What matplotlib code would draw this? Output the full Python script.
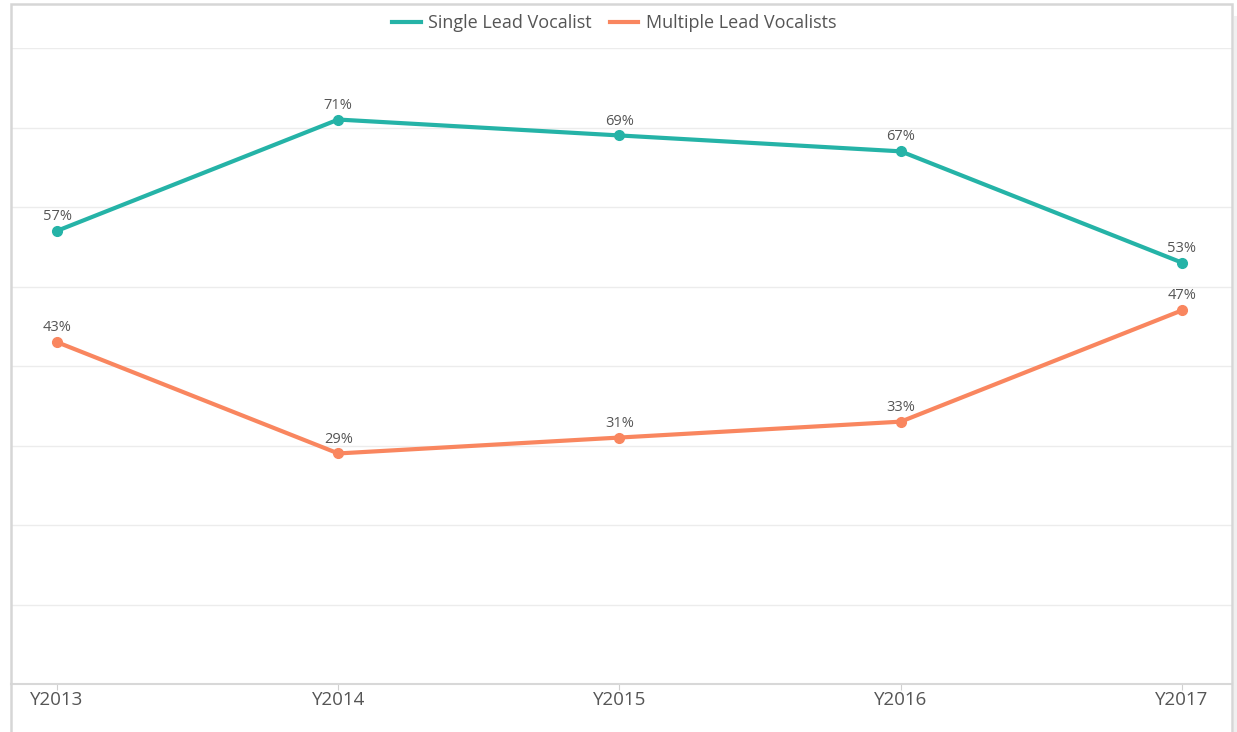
import matplotlib
matplotlib.use("Agg")
from matplotlib import pyplot as plt
from matplotlib.lines import Line2D
from matplotlib.patches import Rectangle

years = ["Y2013", "Y2014", "Y2015", "Y2016", "Y2017"]
single_lead = [57, 71, 69, 67, 53]
multiple_lead = [43, 29, 31, 33, 47]

TEAL = "#25b3a7"
ORANGE = "#f9865f"
TEXT = "#555555"
GRID = "#ececec"

plt.rcParams["font.family"] = ["Open Sans", "DejaVu Sans"]

W, H = 1237, 732
fig = plt.figure(figsize=(W / 100, H / 100), dpi=100)

# plot area in pixels
left, right, top, bottom = 11, 1232, 48, 684
ax = fig.add_axes([left / W, 1 - bottom / H, (right - left) / W, (bottom - top) / H])

xs = list(range(len(years)))
for values, color, name in [
    (single_lead, TEAL, "Single Lead Vocalist"),
    (multiple_lead, ORANGE, "Multiple Lead Vocalists"),
]:
    ax.plot(xs, values, color=color, lw=3, marker="o", ms=7, label=name,
            solid_capstyle="round", zorder=3)
    for x, v in zip(xs, values):
        ax.annotate(f"{v}%", (x, v), xytext=(0, 5), textcoords="offset points",
                    ha="center", va="bottom", fontsize=10.5, color=TEXT)

ax.set_ylim(0, 80)
ax.set_yticks(range(10, 81, 10))
ax.yaxis.set_tick_params(length=0, labelleft=False)
ax.grid(axis="y", color=GRID, lw=1)
ax.set_axisbelow(True)

px_per_unit = (1182 - 57) / 4
ax.set_xlim(-(57 - left) / px_per_unit, 4 + (right - 1182) / px_per_unit)
ax.set_xticks(xs)
ax.set_xticklabels(years, fontsize=13.5, color=TEXT)
ax.tick_params(axis="x", length=4, color="#d0d0d0", pad=1)

for side in ["top", "left", "right"]:
    ax.spines[side].set_visible(False)
ax.spines["bottom"].set_color("#d8d8d8")
ax.spines["bottom"].set_linewidth(1.5)

handles = [Line2D([], [], color=TEAL, lw=3), Line2D([], [], color=ORANGE, lw=3)]
fig.legend(handles, ["Single Lead Vocalist", "Multiple Lead Vocalists"],
           loc="center", bbox_to_anchor=(614 / W, 1 - 23 / H), ncol=2,
           frameon=False, fontsize=13, labelcolor=TEXT, handlelength=1.6,
           handletextpad=0.4, columnspacing=1.0)

# outer frame of the card
fig.patches.append(Rectangle((left / W, -0.05), (right - left) / W, 1.05 - 4 / H,
                             transform=fig.transFigure, fill=False,
                             edgecolor="#d6d6d6", lw=1.8))
fig.patches.append(Rectangle(((right + 2) / W, -0.05), 4 / W, 1.05 - 16 / H,
                             transform=fig.transFigure, color="#f0f0f0", lw=0))

fig.savefig("out.png", dpi=100)
